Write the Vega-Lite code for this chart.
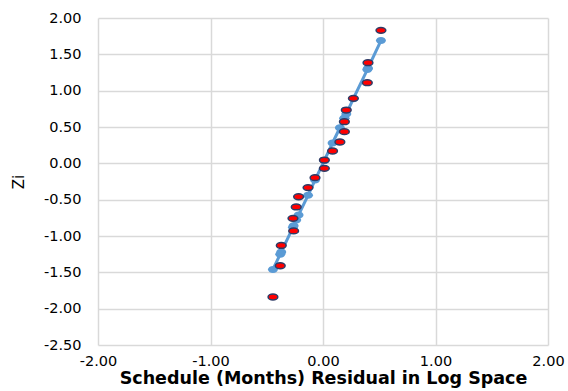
{
  "$schema": "https://vega.github.io/schema/vega-lite/v6.json",
  "autosize": "none",
  "width": 450,
  "height": 327,
  "padding": {"left": 98, "top": 18, "right": 20, "bottom": 46},
  "background": "white",
  "config": {
    "view": {"stroke": null},
    "axis": {
      "labelFont": "DejaVu Sans",
      "labelFontSize": 14.5,
      "labelColor": "#000000",
      "titleFont": "DejaVu Sans",
      "titleColor": "#000000",
      "gridColor": "#d9d9d9",
      "gridWidth": 1.5,
      "domain": false,
      "ticks": false,
      "labelOverlap": false,
      "labelFlush": false
    }
  },
  "data": {
    "values": [
      {"x": 0.515, "zi": 1.83, "fit": 1.69},
      {"x": 0.400, "zi": 1.385, "fit": 1.31},
      {"x": 0.394, "zi": 1.11, "fit": 1.29},
      {"x": 0.270, "zi": 0.894, "fit": 0.89},
      {"x": 0.207, "zi": 0.733, "fit": 0.68},
      {"x": 0.190, "zi": 0.573, "fit": 0.62},
      {"x": 0.190, "zi": 0.436, "fit": 0.62},
      {"x": 0.150, "zi": 0.293, "fit": 0.49},
      {"x": 0.085, "zi": 0.17, "fit": 0.28},
      {"x": 0.012, "zi": 0.045, "fit": 0.04},
      {"x": 0.012, "zi": -0.069, "fit": 0.04},
      {"x": -0.071, "zi": -0.197, "fit": -0.23},
      {"x": -0.133, "zi": -0.334, "fit": -0.44},
      {"x": -0.217, "zi": -0.46, "fit": -0.71},
      {"x": -0.238, "zi": -0.60, "fit": -0.78},
      {"x": -0.267, "zi": -0.757, "fit": -0.88},
      {"x": -0.261, "zi": -0.93, "fit": -0.86},
      {"x": -0.371, "zi": -1.13, "fit": -1.22},
      {"x": -0.380, "zi": -1.41, "fit": -1.25},
      {"x": -0.445, "zi": -1.84, "fit": -1.46}
    ]
  },
  "encoding": {
    "x": {
      "field": "x",
      "type": "quantitative",
      "scale": {"domain": [-2, 2], "nice": false, "zero": false},
      "axis": {
        "values": [-2, -1, 0, 1, 2],
        "labelExpr": "replace(format(datum.value, '.2f'), '\u2212', '-')",
        "title": "Schedule (Months) Residual in Log Space",
        "titleFontSize": 17.5,
        "titleFontWeight": "bold",
        "titlePadding": 2,
        "labelPadding": 9
      }
    }
  },
  "layer": [
    {
      "mark": {"type": "line", "color": "#5B9BD5", "strokeWidth": 3},
      "encoding": {
        "y": {
          "field": "fit",
          "type": "quantitative",
          "scale": {"domain": [-2.5, 2], "nice": false, "zero": false},
          "axis": {
            "values": [-2.5, -2, -1.5, -1, -0.5, 0, 0.5, 1, 1.5, 2],
            "labelExpr": "replace(format(datum.value, '.2f'), '\u2212', '-')",
            "title": "Zi",
            "titleFontSize": 15,
            "titleFontWeight": "normal",
            "titlePadding": 17,
            "labelPadding": 17
          }
        },
        "order": {"field": "x", "type": "quantitative"}
      }
    },
    {
      "mark": {
        "type": "point",
        "shape": "M-1,0A1,0.7,0,1,1,1,0A1,0.7,0,1,1,-1,0Z",
        "filled": true,
        "color": "#5B9BD5",
        "size": 100,
        "opacity": 1
      },
      "encoding": {
        "y": {
          "field": "fit",
          "type": "quantitative",
          "scale": {"domain": [-2.5, 2], "nice": false, "zero": false},
          "axis": {
            "values": [-2.5, -2, -1.5, -1, -0.5, 0, 0.5, 1, 1.5, 2],
            "labelExpr": "replace(format(datum.value, '.2f'), '\u2212', '-')",
            "title": "Zi",
            "titleFontSize": 15,
            "titleFontWeight": "normal",
            "titlePadding": 17,
            "labelPadding": 17
          }
        }
      }
    },
    {
      "mark": {
        "type": "point",
        "shape": "M-1,0A1,0.6,0,1,1,1,0A1,0.6,0,1,1,-1,0Z",
        "filled": true,
        "fill": "#FF0000",
        "stroke": "#2E3B66",
        "strokeWidth": 1.5,
        "size": 95,
        "opacity": 1
      },
      "encoding": {
        "y": {
          "field": "zi",
          "type": "quantitative",
          "scale": {"domain": [-2.5, 2], "nice": false, "zero": false},
          "axis": {
            "values": [-2.5, -2, -1.5, -1, -0.5, 0, 0.5, 1, 1.5, 2],
            "labelExpr": "replace(format(datum.value, '.2f'), '\u2212', '-')",
            "title": "Zi",
            "titleFontSize": 15,
            "titleFontWeight": "normal",
            "titlePadding": 17,
            "labelPadding": 17
          }
        }
      }
    }
  ]
}
